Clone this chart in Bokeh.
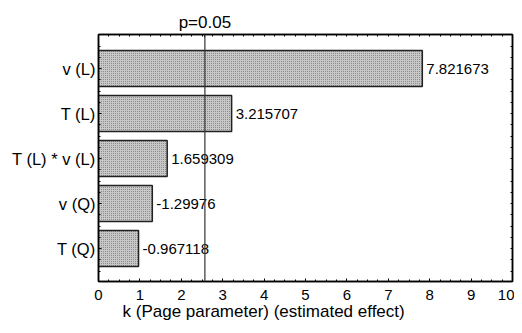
from bokeh.plotting import figure
from bokeh.models import (ColumnDataSource, Range1d, FixedTicker, LinearAxis, Span, Title)
from bokeh.embed import file_html
from bokeh.resources import INLINE
from bokeh.core.properties import value

# ---- data ----
factors = ["v (L)", "T (L)", "T (L) * v (L)", "v (Q)", "T (Q)"]
effects = [7.821673, 3.215707, 1.659309, -1.29976, -0.967118]
effect_labels = ["7.821673", "3.215707", "1.659309", "-1.29976", "-0.967118"]
p_value_line = 2.57
p_label = "p=0.05"
x_ticks = [0, 1, 2, 3, 4, 5, 6, 7, 8, 9, 10]
x_title = "k (Page parameter) (estimated effect)"

n = len(factors)
ypos = [n - 1 - i for i in range(n)]
lengths = [abs(e) for e in effects]

src = ColumnDataSource(dict(y=ypos, right=lengths, lab=effect_labels, name=factors))

FONT = "Liberation Sans"
FS = "15px"
FS_CAT = "16.5px"
FS_BIG = "17px"

p = figure(width=514, height=325, output_backend="svg", toolbar_location=None,
           x_range=Range1d(0, 10), y_range=Range1d(-0.733, n - 1 + 0.756),
           min_border_left=98, min_border_right=2, min_border_top=34, min_border_bottom=44,
           x_axis_location=None, y_axis_location=None)
p.xgrid.visible = False
p.ygrid.visible = False
p.outline_line_color = "black"
p.outline_line_width = 1.5

p.hbar(y="y", left=0, right="right", height=0.8, source=src,
       fill_color="#c8c8c8", line_color="#222222", line_width=1.5,
       hatch_pattern="dot", hatch_color="#7a7a7a", hatch_scale=2, hatch_weight=1)

p.text(x="right", y="y", text="lab", source=src, x_offset=4,
       text_font=value(FONT), text_font_size=FS, text_baseline="middle",
       text_align="left", text_color="black")

p.add_layout(Span(location=p_value_line, dimension="height", line_color="#333333", line_width=1.2))

minor_x = [i * 0.25 for i in range(41)]
minor_y = [-0.75 + i * 0.25 for i in range(23)]


def style(ax, fs=FS):
    ax.axis_line_color = "black"
    ax.axis_line_width = 1.5
    ax.major_tick_in = 3
    ax.major_tick_out = 0
    ax.minor_tick_in = 2
    ax.minor_tick_out = 0
    ax.major_tick_line_color = "black"
    ax.minor_tick_line_color = "black"
    ax.major_label_text_font = FONT
    ax.major_label_text_font_size = fs
    ax.major_label_text_color = "black"


bx = LinearAxis(ticker=FixedTicker(ticks=x_ticks, minor_ticks=minor_x))
style(bx)
bx.major_label_standoff = 8
p.add_layout(bx, "below")

# top axis: minor ticks + the p=0.05 marker label
tx = LinearAxis(ticker=FixedTicker(ticks=[p_value_line], minor_ticks=minor_x),
                major_label_overrides={p_value_line: p_label})
style(tx, FS_BIG)
tx.major_label_standoff = 3
p.add_layout(tx, "above")

ly = LinearAxis(ticker=FixedTicker(ticks=ypos, minor_ticks=minor_y),
                major_label_overrides={yy: nm for yy, nm in zip(ypos, factors)})
style(ly, FS_CAT)
ly.major_label_standoff = 3
p.add_layout(ly, "left")

ry = LinearAxis(ticker=FixedTicker(ticks=[], minor_ticks=minor_y))
style(ry)
ry.major_label_standoff = 0
p.add_layout(ry, "right")

t = Title(text=x_title, align="left", offset=24, text_font=FONT, text_font_size=FS_BIG,
          text_font_style="normal", text_color="black", standoff=-5)
p.add_layout(t, "below")

open("out.html", "w").write(file_html(p, INLINE))
